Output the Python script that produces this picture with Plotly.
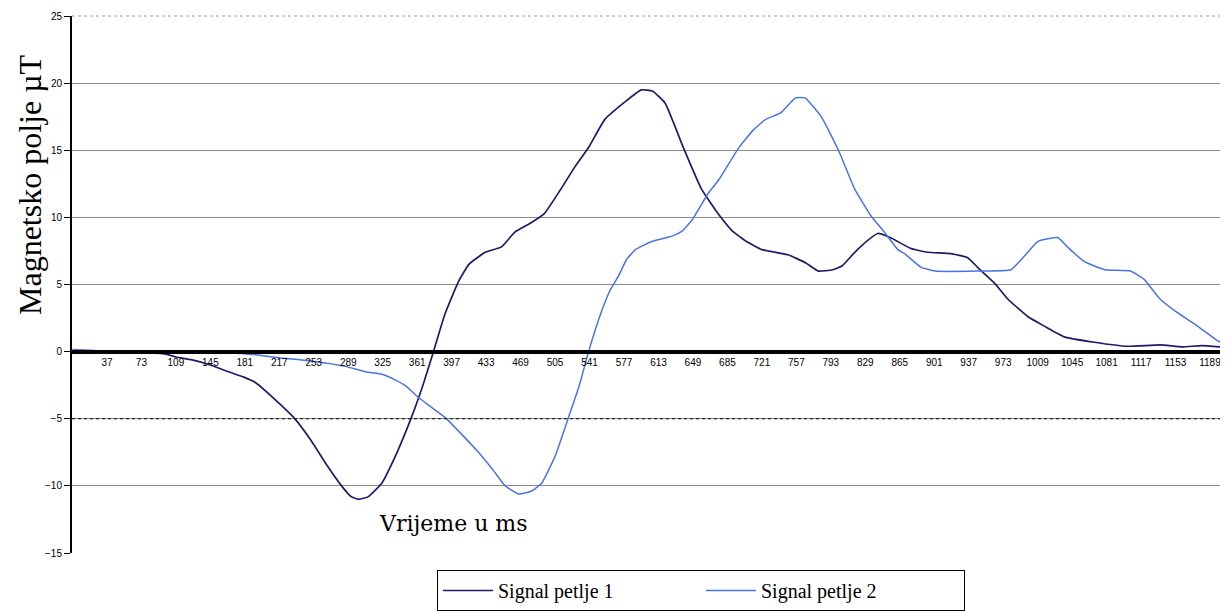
import plotly.graph_objects as go

# ---- data ----
s1_x = [1, 20, 40, 60, 80, 100, 109, 125, 145, 164, 180, 192, 210, 232, 250, 268, 282, 292, 300, 310,
        324, 340, 355, 367, 378, 390, 404, 415, 432, 449, 463, 480, 494, 511, 526, 540, 557, 578, 595,
        607, 620, 639, 658, 675, 690, 705, 721, 749, 767, 780, 795, 805, 818, 830, 842, 855, 876, 894,
        918, 936, 946, 964, 978, 999, 1016, 1037, 1068, 1103, 1137, 1160, 1180, 1200]
s1_y = [0.0, 0.05, -0.05, -0.1, -0.1, -0.2, -0.4, -0.6, -1.0, -1.5, -1.9, -2.3, -3.4, -4.9, -6.6, -8.6,
        -10.0, -10.8, -11.0, -10.8, -9.8, -7.5, -4.9, -2.5, 0.0, 2.8, 5.2, 6.5, 7.4, 7.8, 8.9, 9.6, 10.3,
        12.1, 13.8, 15.2, 17.3, 18.6, 19.5, 19.4, 18.5, 15.2, 12.1, 10.3, 9.0, 8.2, 7.6, 7.2, 6.6, 6.0,
        6.1, 6.4, 7.4, 8.2, 8.8, 8.5, 7.7, 7.4, 7.3, 7.0, 6.3, 5.1, 3.9, 2.6, 1.9, 1.1, 0.7, 0.4, 0.5,
        0.35, 0.45, 0.35]

s2_x = [1, 20, 40, 60, 80, 100, 120, 140, 160, 180, 200, 216, 250, 286, 307, 325, 338, 350, 362, 375,
        390, 408, 425, 440, 453, 467, 480, 491, 505, 519, 530, 540, 553, 562, 571, 580, 589, 606, 627,
        638, 648, 665, 676, 697, 712, 725, 741, 756, 766, 783, 801, 818, 835, 849, 863, 870, 887, 902,
        946, 981, 995, 1009, 1030, 1040, 1058, 1079, 1106, 1120, 1137, 1155, 1176, 1195, 1200]
s2_y = [0.15, 0.1, 0.0, -0.05, -0.1, 0.05, -0.05, -0.05, -0.1, -0.15, -0.3, -0.45, -0.7, -1.1, -1.5,
        -1.7, -2.1, -2.6, -3.4, -4.1, -4.9, -6.2, -7.5, -8.8, -10.0, -10.6, -10.4, -9.8, -7.8, -4.9,
        -2.6, 0.0, 2.9, 4.5, 5.6, 6.9, 7.6, 8.2, 8.6, 9.0, 9.8, 11.8, 12.8, 15.2, 16.5, 17.3, 17.8,
        18.9, 18.9, 17.5, 15.0, 12.1, 10.1, 8.9, 7.6, 7.3, 6.3, 6.0, 6.0, 6.1, 7.1, 8.2, 8.5, 7.8,
        6.7, 6.1, 6.0, 5.4, 3.9, 2.9, 1.9, 0.9, 0.7]

x_ticks = list(range(37, 1190, 36))
x_tick_labels = [str(v) for v in x_ticks]
y_ticks = [-15, -10, -5, 0, 5, 10, 15, 20, 25]

series_names = ["Signal petlje 1", "Signal petlje 2"]
y_title = "Magnetsko polje µT"
x_title = "Vrijeme u ms"

y_min, y_max = -15, 25
x_min, x_max = 0.5, 1200.5

PW = 1149  # plot width in px
PH = 537   # plot height in px
OFF = 8    # page body margin of the browser

fig = go.Figure()
fig.add_trace(go.Scatter(x=s1_x, y=s1_y, mode="lines", name=series_names[0],
                         line=dict(color="#1c1c6b", width=1.7, shape="spline", smoothing=0.4)))
fig.add_trace(go.Scatter(x=s2_x, y=s2_y, mode="lines", name=series_names[1],
                         line=dict(color="#4a74e0", width=1.5, shape="spline", smoothing=0.4)))

zero_pos = (0 - y_min) / (y_max - y_min)

fig.update_layout(
    width=1228 - OFF, height=612 - OFF,
    margin=dict(l=72 - OFF, r=7, t=16 - OFF, b=59, autoexpand=False),
    paper_bgcolor="white", plot_bgcolor="white",
    showlegend=True,
    legend=dict(orientation="h", x=(437 - 72) / PW, xanchor="left", y=-(570 - 553) / PH, yanchor="top",
                bordercolor="black", borderwidth=1, bgcolor="white",
                font=dict(family="Liberation Serif", size=20, color="black"),
                entrywidth=198, entrywidthmode="pixels", itemwidth=50),
    xaxis=dict(range=[x_min, x_max], tickmode="array", tickvals=x_ticks, ticktext=x_tick_labels,
               showgrid=False, zeroline=False, showline=True, linecolor="black", linewidth=4,
               anchor="free", position=zero_pos, ticks="",
               tickfont=dict(family="Liberation Sans", size=10, color="black"),
               tickangle=0),
    yaxis=dict(range=[y_min, y_max], tickmode="array", tickvals=y_ticks,
               showgrid=True, gridcolor="#8c8c8c", gridwidth=1, zeroline=False,
               showline=True, linecolor="black", linewidth=2,
               ticks="outside", ticklen=6, tickwidth=1, tickcolor="black",
               tickfont=dict(family="Liberation Sans", size=10, color="black")),
    shapes=[
        dict(type="line", xref="paper", yref="paper", x0=1, x1=1, y0=0, y1=1,
             line=dict(color="#9a9a9a", width=1)),
        dict(type="line", xref="paper", yref="paper", x0=0, x1=1, y0=1, y1=1,
             line=dict(color="#9a9a9a", width=1, dash="dot")),
        dict(type="line", xref="paper", yref="y", x0=0, x1=1, y0=-5, y1=-5,
             line=dict(color="black", width=1, dash="dot")),
    ],
    annotations=[
        dict(text=y_title, xref="paper", yref="paper", x=(30 - 72) / PW, y=(553 - 185) / PH,
             textangle=-90, showarrow=False, xanchor="center", yanchor="middle",
             font=dict(family="Liberation Serif", size=32, color="black")),
        dict(text=x_title, xref="paper", yref="paper", x=(453 - 72) / PW, y=(553 - 523) / PH,
             showarrow=False, xanchor="center", yanchor="middle",
             font=dict(family="DejaVu Serif", size=22, color="black")),
    ],
)

fig.write_html("out.html")
